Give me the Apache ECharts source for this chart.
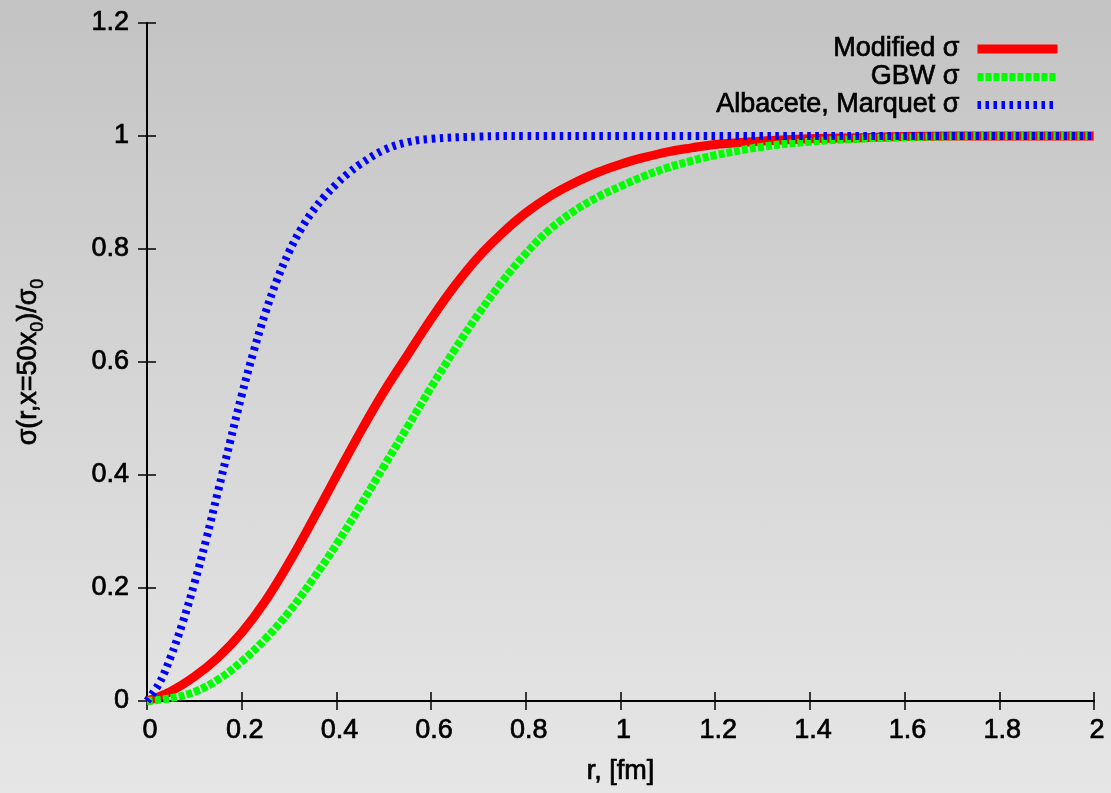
<!DOCTYPE html>
<html>
<head>
<meta charset="utf-8">
<script src="https://cdn.jsdelivr.net/npm/echarts@6/dist/echarts.min.js"></script>
<style>
  html, body { margin: 0; padding: 0; }
  #chart { width: 1111px; height: 793px; background: linear-gradient(to bottom, #c3c3c3 0%, #d6d6d6 50%, #e6e6e6 100%); }
</style>
</head>
<body>
<div id="chart"></div>
<script>
// ---- data ----
var xTicks = [0, 0.2, 0.4, 0.6, 0.8, 1, 1.2, 1.4, 1.6, 1.8, 2];
var yTicks = [0, 0.2, 0.4, 0.6, 0.8, 1, 1.2];

var seriesNames = ['Modified σ', 'GBW σ', 'Albacete, Marquet σ'];

var modR = [0, 0.05, 0.1, 0.15, 0.2, 0.25, 0.3, 0.35, 0.4, 0.45, 0.5, 0.55, 0.6, 0.65, 0.7, 0.75, 0.8, 0.85, 0.9, 0.95, 1.0, 1.05, 1.1, 1.15, 1.2, 1.3, 1.4, 1.5, 1.6, 1.8, 2.0];
var modV = [0, 0.017, 0.043, 0.077, 0.121, 0.177, 0.245, 0.32, 0.398, 0.475, 0.547, 0.612, 0.676, 0.735, 0.786, 0.828, 0.864, 0.893, 0.916, 0.935, 0.95, 0.962, 0.972, 0.979, 0.985, 0.991, 0.995, 0.997, 0.999, 1, 1];

var gbwR = [0, 0.05, 0.1, 0.15, 0.2, 0.25, 0.3, 0.35, 0.4, 0.45, 0.5, 0.55, 0.6, 0.65, 0.7, 0.75, 0.8, 0.85, 0.9, 0.95, 1.0, 1.05, 1.1, 1.15, 1.2, 1.3, 1.4, 1.5, 1.6, 1.8, 2.0];
var gbwV = [0, 0.005, 0.016, 0.038, 0.07, 0.11, 0.158, 0.215, 0.277, 0.345, 0.415, 0.485, 0.555, 0.622, 0.685, 0.742, 0.792, 0.834, 0.866, 0.891, 0.911, 0.929, 0.944, 0.956, 0.966, 0.981, 0.99, 0.995, 0.998, 1, 1];

var amR = [0, 0.025, 0.05, 0.075, 0.1, 0.125, 0.15, 0.175, 0.2, 0.225, 0.25, 0.275, 0.3, 0.325, 0.35, 0.375, 0.4, 0.425, 0.45, 0.5, 0.55, 0.6, 0.7, 0.8, 1.0, 1.5, 2.0];
var amV = [0, 0.03, 0.078, 0.138, 0.208, 0.286, 0.371, 0.457, 0.541, 0.618, 0.687, 0.746, 0.795, 0.835, 0.867, 0.893, 0.915, 0.934, 0.95, 0.975, 0.989, 0.995, 0.999, 1, 1, 1, 1];

function zip(a, b) { return a.map(function (v, i) { return [v, b[i]]; }); }

var FONT = "'Liberation Sans', Arial, Helvetica, sans-serif";
var chart = echarts.init(document.getElementById('chart'), null, { renderer: 'canvas' });

var axisLine = { show: true, lineStyle: { color: '#000', width: 2 } };
var tickIn = { show: true, inside: true, length: 9, lineStyle: { color: '#000', width: 1.5 } };
var txt = { fontFamily: FONT, fontSize: 27, color: '#000', textBorderColor: '#000', textBorderWidth: 0.7 };

var colors = ['#ff0000', '#00ff00', '#0000ff'];
var widths = [9, 8, 8];
var dashes = ['solid', [6, 2], [3.5, 4.5]];

var option = {
  backgroundColor: 'transparent',
  animation: false,
  grid: { left: 147, right: 17, top: 23, bottom: 92, containLabel: false },
  legend: {
    orient: 'vertical',
    right: 44,
    top: 30,
    align: 'right',
    itemWidth: 80,
    itemHeight: 10,
    itemGap: 0,
    selectedMode: false,
    itemStyle: { opacity: 0 },
    textStyle: Object.assign({}, txt, { lineHeight: 28, padding: [0, 13, 0, 0] }),
    data: seriesNames.map(function (n, i) {
      return { name: n, itemStyle: { opacity: 0 }, lineStyle: { width: widths[i], color: colors[i], type: dashes[i], cap: 'butt' } };
    })
  },
  xAxis: [{
    type: 'value', min: 0, max: 2, interval: 0.2, position: 'bottom',
    axisLine: axisLine, axisTick: tickIn, splitLine: { show: false },
    axisLabel: Object.assign({}, txt, { margin: 16, padding: [0, 0, 0, 6],
      formatter: function (v) { return String(Math.round(v * 10) / 10); } }),
    name: 'r, [fm]', nameLocation: 'middle', nameGap: 57,
    nameTextStyle: txt
  }, {
    type: 'value', min: 0, max: 2, interval: 0.2, position: 'top',
    axisLine: axisLine, axisTick: tickIn, axisLabel: { show: false }, splitLine: { show: false }
  }],
  yAxis: [{
    type: 'value', min: 0, max: 1.2, interval: 0.2, position: 'left',
    axisLine: axisLine, axisTick: tickIn, splitLine: { show: false },
    axisLabel: Object.assign({}, txt, { margin: 18,
      formatter: function (v) { return String(Math.round(v * 10) / 10); } }),
    name: '{a|σ(r,x=50x}{s|0}{a|)/σ}{s|0}', nameLocation: 'middle', nameRotate: 90, nameGap: 100,
    nameTextStyle: {
      fontFamily: FONT, color: '#000',
      rich: {
        a: Object.assign({}, txt, { lineHeight: 36 }),
        s: Object.assign({}, txt, { fontSize: 18, lineHeight: 18, verticalAlign: 'bottom', textBorderWidth: 0.5 })
      }
    }
  }, {
    type: 'value', min: 0, max: 1.2, interval: 0.2, position: 'right',
    axisLine: axisLine, axisTick: tickIn, axisLabel: { show: false }, splitLine: { show: false }
  }],
  series: [
    { name: seriesNames[0], type: 'line', data: zip(modR, modV), smooth: 0.4, symbol: 'none', showSymbol: false,
      lineStyle: { color: colors[0], width: widths[0], type: dashes[0], cap: 'butt' }, itemStyle: { color: colors[0] } },
    { name: seriesNames[1], type: 'line', data: zip(gbwR, gbwV), smooth: 0.4, symbol: 'none', showSymbol: false,
      lineStyle: { color: colors[1], width: widths[1], type: dashes[1], cap: 'butt' }, itemStyle: { color: colors[1] } },
    { name: seriesNames[2], type: 'line', data: zip(amR, amV), smooth: 0.4, symbol: 'none', showSymbol: false,
      lineStyle: { color: colors[2], width: widths[2], type: dashes[2], cap: 'butt' }, itemStyle: { color: colors[2] } }
  ]
};
chart.setOption(option);
</script>
</body>
</html>
